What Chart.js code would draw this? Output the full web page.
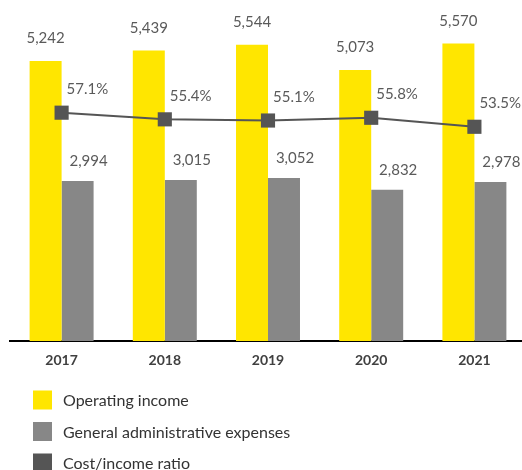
<!DOCTYPE html>
<html>
<head>
<meta charset="utf-8">
<script src="https://cdn.jsdelivr.net/npm/chart.js@4"></script>
<style>
  html, body { margin: 0; padding: 0; background: #fff; overflow: hidden; }
  #wrap { width: 526px; height: 470px; position: relative; }
</style>
</head>
<body>
<div id="wrap"><canvas id="costChart"></canvas></div>
<script>
// Data
const years = ['2017', '2018', '2019', '2020', '2021'];
const operatingIncome = [5242, 5439, 5544, 5073, 5570];
const adminExpenses = [2994, 3015, 3052, 2832, 2978];
const costIncomeRatio = [57.1, 55.4, 55.1, 55.8, 53.5];
const seriesNames = ['Operating income', 'General administrative expenses', 'Cost/income ratio'];

const YELLOW = '#FFE600';
const GREY = '#878787';
const DARK = '#555555';
const FONT = "Lato, 'Open Sans', sans-serif";

// value labels over bars and points
const valueLabels = {
    id: 'valueLabels',
    afterDatasetsDraw(chart) {
        const c = chart.ctx;
        c.save();
        c.font = '15px ' + FONT;
        c.fillStyle = '#5a5a5a';
        c.textBaseline = 'bottom';

        chart.getDatasetMeta(1).data.forEach((bar, i) => {
            c.textAlign = 'center';
            c.fillText(operatingIncome[i].toLocaleString('en-US'), bar.x, bar.y - 15);
        });
        chart.getDatasetMeta(2).data.forEach((bar, i) => {
            c.textAlign = 'center';
            c.fillText(adminExpenses[i].toLocaleString('en-US'), bar.x + 11, bar.y - 12);
        });
        chart.getDatasetMeta(0).data.forEach((pt, i) => {
            c.textAlign = 'left';
            c.fillText(costIncomeRatio[i].toFixed(1) + '%', pt.x + 5, pt.y - 16);
        });
        c.restore();
    }
};

// vertical legend under the axis
const sideLegend = {
    id: 'sideLegend',
    afterDraw(chart) {
        const c = chart.ctx;
        const colors = [YELLOW, GREY, DARK];
        c.save();
        c.font = '16px ' + FONT;
        c.textBaseline = 'middle';
        c.textAlign = 'left';
        seriesNames.forEach((name, i) => {
            const cy = 400 + i * 31.5;
            c.fillStyle = colors[i];
            c.fillRect(33, cy - 9.5, 19, 19);
            c.fillStyle = '#333';
            c.fillText(name, 63, cy + 1);
        });
        c.restore();
    }
};

const ctx = document.getElementById('costChart');
new Chart(ctx, {
    type: 'bar',
    data: {
        labels: years,
        datasets: [{
            type: 'line',
            label: seriesNames[2],
            data: costIncomeRatio,
            yAxisID: 'y1',
            borderColor: DARK,
            borderWidth: 2,
            pointStyle: 'rect',
            pointRadius: 10,
            pointBackgroundColor: DARK,
            pointBorderColor: DARK,
            pointBorderWidth: 0,
            tension: 0,
            order: 0
        }, {
            label: seriesNames[0],
            data: operatingIncome,
            backgroundColor: YELLOW,
            yAxisID: 'y',
            categoryPercentage: 0.62,
            barPercentage: 1,
            order: 1
        }, {
            label: seriesNames[1],
            data: adminExpenses,
            backgroundColor: GREY,
            yAxisID: 'y',
            categoryPercentage: 0.62,
            barPercentage: 1,
            order: 1
        }]
    },
    options: {
        responsive: true,
        maintainAspectRatio: false,
        animation: false,
        layout: {
            autoPadding: false,
            padding: { left: 10, right: 0, top: 0, bottom: 98.2 }
        },
        plugins: {
            legend: { display: false },
            tooltip: { enabled: false }
        },
        scales: {
            x: {
                grid: { display: false },
                border: { display: true, color: '#000', width: 2 },
                ticks: {
                    color: '#404040',
                    padding: 3,
                    font: { family: FONT, size: 14, weight: 'bold' }
                }
            },
            y: {
                display: false,
                min: 0,
                max: 6384
            },
            y1: {
                display: false,
                min: -1.25,
                max: 85.9
            }
        }
    },
    plugins: [valueLabels, sideLegend]
});
</script>
</body>
</html>
